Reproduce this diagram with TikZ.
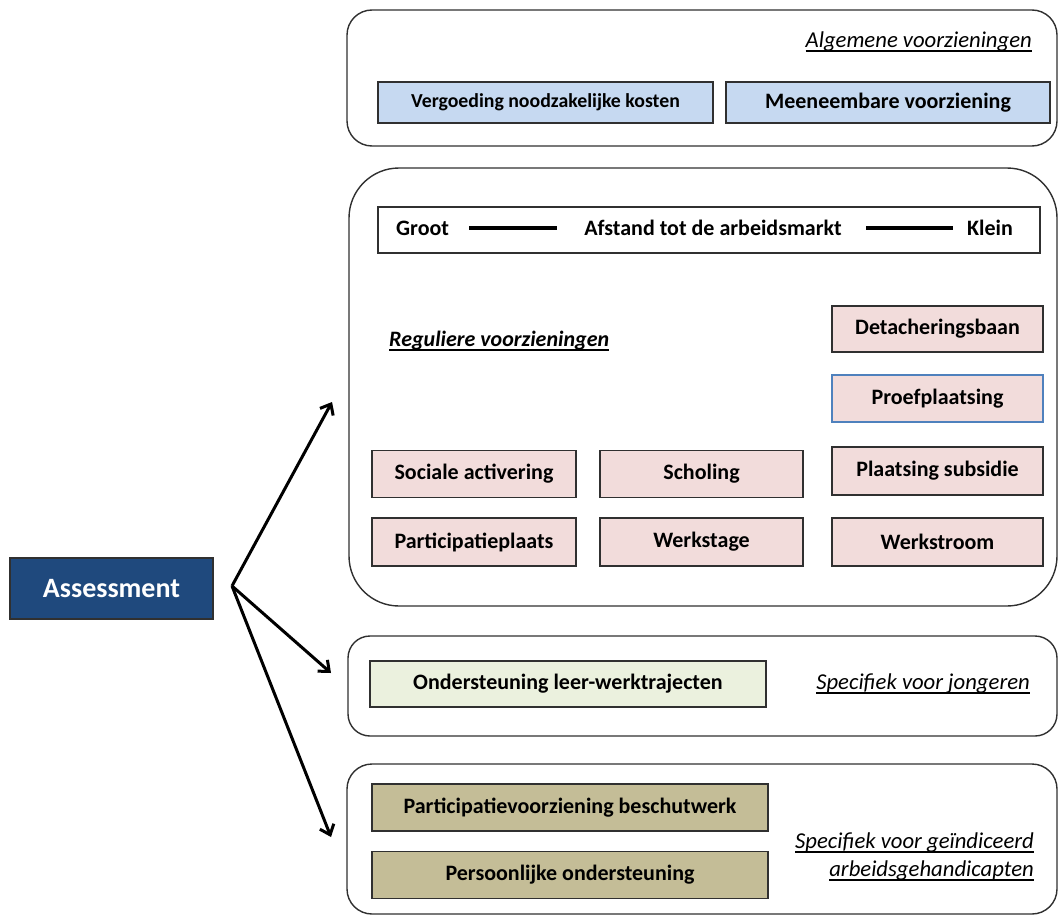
\documentclass[tikz,border=0pt]{standalone}
\usepackage{fontspec}
\setmainfont{Carlito}
\newcommand{\myul}[1]{\setbox0\hbox{#1}\rlap{\rule[-4pt]{\wd0}{1.6pt}}\box0}
\usetikzlibrary{arrows.meta}
\definecolor{bluefill}{HTML}{C6D9F1}
\definecolor{pinkfill}{HTML}{F2DCDB}
\definecolor{greenfill}{HTML}{EBF1DE}
\definecolor{tanfill}{HTML}{C4BD97}
\definecolor{navy}{HTML}{1F497D}
\definecolor{proefblue}{HTML}{4F81BD}
\definecolor{edge}{HTML}{303030}
\begin{document}
\begin{tikzpicture}[x=1pt,y=-1pt,
  container/.style={draw=edge, line width=1.4pt, inner sep=0pt},
  box/.style={draw=edge, line width=1.4pt, inner sep=0pt,
    font=\fontsize{22}{26}\selectfont\bfseries},
  bluebox/.style={box, fill=bluefill, minimum height=41pt},
  pinkbox/.style={box, fill=pinkfill},
  greenbox/.style={box, fill=greenfill},
  tanbox/.style={box, fill=tanfill, minimum width=396pt, minimum height=47pt},
  heading/.style={inner sep=0pt, font=\fontsize{22.7}{28}\selectfont\itshape},
  plain/.style={inner sep=0pt, font=\fontsize{22}{26}\selectfont\bfseries},
  arr/.style={line width=3pt, -{Straight Barb[length=9pt,width=15pt,line width=3pt]}},
  scaleline/.style={line width=3.3pt}
]
\useasboundingbox (0,0) rectangle (1059,915);

% containers
\node[container, rounded corners=25pt, minimum width=710pt, minimum height=136pt] (algc) at (702,78) {};
\node[container, rounded corners=50pt, minimum width=708pt, minimum height=438pt] (regc) at (703,387) {};
\node[container, rounded corners=22pt, minimum width=709pt, minimum height=100pt] (jongc) at (702.5,686) {};
\node[container, rounded corners=25pt, minimum width=710pt, minimum height=150pt] (gehc) at (702,839) {};

% algemene voorzieningen
\node[heading, anchor=east] (algh) at (1032,42) {\myul{Algemene voorzieningen}};
\node[bluebox, minimum width=335pt, font=\fontsize{19.8}{23}\selectfont\bfseries] (verg) at (545.5,102.5) {Vergoeding noodzakelijke kosten};
\node[bluebox, minimum width=324pt] (meen) at (888,102.5) {Meeneembare voorziening};

% afstand
\node[box, minimum width=662pt, minimum height=46pt] (afstbox) at (709,230) {};
\node[plain, anchor=west] (groot) at (396,228) {Groot};
\node[plain] (afst) at (713,228) {Afstand tot de arbeidsmarkt};
\node[plain, anchor=east] (klein) at (1013,228) {Klein};
\coordinate (l1a) at (469,228);
\coordinate (l1b) at (557,228);
\coordinate (l2a) at (866,228);
\coordinate (l2b) at (953,228);
\draw[scaleline] (l1a) -- (l1b);
\draw[scaleline] (l2a) -- (l2b);

% reguliere
\node[heading, anchor=west, font=\fontsize{22}{28}\selectfont\bfseries\itshape] (regh) at (389,341) {\myul{Reguliere voorzieningen}};
\node[pinkbox, minimum width=211pt, minimum height=46pt] (det) at (937.5,329) {Detacheringsbaan};
\node[pinkbox, draw=proefblue, minimum width=211pt, minimum height=47pt] (proef) at (937.5,398.5) {Proefplaatsing};
\node[pinkbox, minimum width=204pt, minimum height=47pt] (soc) at (474,474) {Sociale activering};
\node[pinkbox, minimum width=203pt, minimum height=47pt] (schol) at (701.5,474) {Scholing};
\node[pinkbox, minimum width=211pt, minimum height=48pt] (plaats) at (937.5,471) {Plaatsing subsidie};
\node[pinkbox, minimum width=204pt, minimum height=48pt] (partpl) at (474,542) {Participatieplaats};
\node[pinkbox, minimum width=203pt, minimum height=48pt] (stage) at (701.5,542) {Werkstage};
\node[pinkbox, minimum width=211pt, minimum height=48pt] (stroom) at (937.5,542) {Werkstroom};

% jongeren
\node[greenbox, minimum width=396pt, minimum height=46pt] (leer) at (568,684) {Ondersteuning leer-werktrajecten};
\node[heading, anchor=east] (jongh) at (1030,684) {\myul{Specifiek voor jongeren}};

% gehandicapten
\node[tanbox] (beschut) at (570,807.5) {Participatievoorziening beschutwerk};
\node[tanbox] (pers) at (570,875) {Persoonlijke ondersteuning};
\node[heading, anchor=east, align=right] (gehh) at (1034,857) {\myul{Specifiek voor geïndiceerd}\\\myul{arbeidsgehandicapten}};

% assessment
\node[box, fill=navy, text=white, minimum width=203pt, minimum height=61pt,
  font=\fontsize{28}{32}\selectfont\bfseries] (assess) at (111.5,588.5) {Assessment};

% arrows
\coordinate (fork) at (232,586);
\coordinate (toreg) at (332,402);
\coordinate (tojong) at (331,673);
\coordinate (togeh) at (331,837);
\draw[arr] (fork) -- (toreg);
\draw[arr] (fork) -- (tojong);
\draw[arr] (fork) -- (togeh);
\end{tikzpicture}
\end{document}
